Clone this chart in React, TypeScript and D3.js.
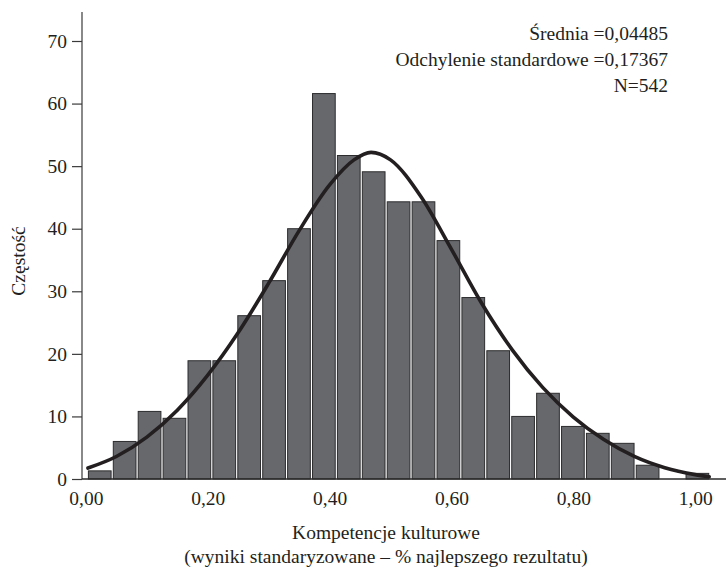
import { useEffect, useRef } from 'react'
import * as d3 from 'd3'

// histogram: 25 equal bins, lower edge of first bin + bin width (data units)
const BIN_START = 0.0023
const BIN_WIDTH = 0.04087
const COUNTS = [
  1.3, 6.0, 10.8, 9.7, 18.9, 18.9, 26.1, 31.7, 40.0, 61.6, 51.7, 49.1, 44.3,
  44.3, 38.1, 29.0, 20.5, 10.0, 13.7, 8.4, 7.3, 5.7, 2.2, 0, 0.9,
]

// fitted normal curve
const CURVE_X = [
  0.0034, 0.05, 0.1, 0.15, 0.2, 0.25, 0.3, 0.35, 0.4, 0.44, 0.468, 0.5, 0.55,
  0.6, 0.65, 0.7, 0.75, 0.8, 0.85, 0.9, 0.95, 1.0, 1.023,
]
const CURVE_Y = [
  1.75, 3.6, 6.7, 11.0, 16.6, 23.4, 31.3, 39.7, 47.0, 51.0, 52.2, 51.0, 45.1,
  36.7, 28.0, 20.6, 14.6, 9.9, 6.3, 3.6, 1.8, 0.7, 0.35,
]

const X_TICKS = [0, 0.2, 0.4, 0.6, 0.8, 1.0]
const Y_TICKS = [0, 10, 20, 30, 40, 50, 60, 70]
const STATS = ['Średnia =0,04485', 'Odchylenie standardowe =0,17367', 'N=542']
const X_TITLE = ['Kompetencje kulturowe', '(wyniki standaryzowane – % najlepszego rezultatu)']
const Y_TITLE = 'Częstość'

const W = 726
const H = 568
const INK = '#231f20'
const FONT = '"Liberation Serif", "Times New Roman", serif'
const FS = 19.5

export default function App() {
  const svgRef = useRef<SVGSVGElement>(null)

  useEffect(() => {
    const el = svgRef.current
    if (!el) return

    const x = d3.scaleLinear().domain([0, 1]).range([85.9, 695.2])
    const y = d3.scaleLinear().domain([0, 70]).range([479, 41])

    const svg = d3.select(el)
    svg.selectAll('*').remove()

    const bins = COUNTS.map((c, i) => ({
      x0: BIN_START + i * BIN_WIDTH,
      x1: BIN_START + (i + 1) * BIN_WIDTH,
      c,
    }))

    // bars
    svg.append('g')
      .selectAll('rect')
      .data(bins.filter(b => b.c > 0))
      .join('rect')
      .attr('x', d => x(d.x0) + 1.1)
      .attr('width', d => x(d.x1) - x(d.x0) - 2.2)
      .attr('y', d => y(d.c))
      .attr('height', d => y(0) - y(d.c))
      .attr('fill', '#67686c')
      .attr('stroke', '#2c2c2e')
      .attr('stroke-width', 1)

    // normal curve
    const pts = CURVE_X.map((v, i) => [v, CURVE_Y[i]] as [number, number])
    const line = d3.line<[number, number]>()
      .x(d => x(d[0]))
      .y(d => y(d[1]))
      .curve(d3.curveMonotoneX)
    svg.append('path')
      .datum(pts)
      .attr('fill', 'none')
      .attr('stroke', INK)
      .attr('stroke-width', 3.6)
      .attr('stroke-linecap', 'round')
      .attr('d', line)

    // axis lines
    svg.append('line')
      .attr('x1', 82).attr('x2', 82)
      .attr('y1', 12).attr('y2', y(0))
      .attr('stroke', '#3a3a3a').attr('stroke-width', 1.2)
    svg.append('line')
      .attr('x1', 82).attr('x2', W)
      .attr('y1', y(0)).attr('y2', y(0))
      .attr('stroke', '#2a2a2a').attr('stroke-width', 1.4)

    const styleText = (ax: d3.Selection<SVGGElement, unknown, null, undefined>) =>
      ax.selectAll('text')
        .attr('font-size', FS)
        .attr('font-family', FONT)
        .attr('fill', INK)

    // y axis
    svg.append('g')
      .attr('transform', 'translate(82,0)')
      .call(d3.axisLeft(y).tickValues(Y_TICKS).tickSize(10).tickPadding(5).tickFormat(d3.format('d')))
      .call(ax => ax.select('.domain').remove())
      .call(ax => ax.selectAll('line').attr('stroke', '#3a3a3a').attr('stroke-width', 1.2))
      .call(styleText)

    // x axis (labels only)
    svg.append('g')
      .attr('transform', `translate(0,${y(0)})`)
      .call(d3.axisBottom(x).tickValues(X_TICKS).tickSize(0).tickPadding(12)
        .tickFormat(d => d3.format('.2f')(d as number).replace('.', ',')))
      .call(ax => ax.select('.domain').remove())
      .call(styleText)

    // stats box text
    svg.append('g')
      .selectAll('text')
      .data(STATS)
      .join('text')
      .attr('x', 668)
      .attr('y', (_, i) => 39.5 + i * 26.2)
      .attr('text-anchor', 'end')
      .attr('font-size', FS)
      .attr('font-family', FONT)
      .attr('fill', INK)
      .text(d => d)

    // titles
    svg.append('g')
      .selectAll('text')
      .data(X_TITLE)
      .join('text')
      .attr('x', 386)
      .attr('y', (_, i) => 539 + i * 23.5)
      .attr('text-anchor', 'middle')
      .attr('font-size', FS)
      .attr('font-family', FONT)
      .attr('fill', INK)
      .text(d => d)

    svg.append('text')
      .attr('transform', 'translate(25,261) rotate(-90)')
      .attr('text-anchor', 'middle')
      .attr('font-size', FS)
      .attr('font-family', FONT)
      .attr('fill', INK)
      .text(Y_TITLE)
  }, [])

  return (
    <svg
      ref={svgRef}
      width={W}
      height={H}
      style={{ position: 'absolute', left: 0, top: 0, background: '#fff' }}
    />
  )
}
